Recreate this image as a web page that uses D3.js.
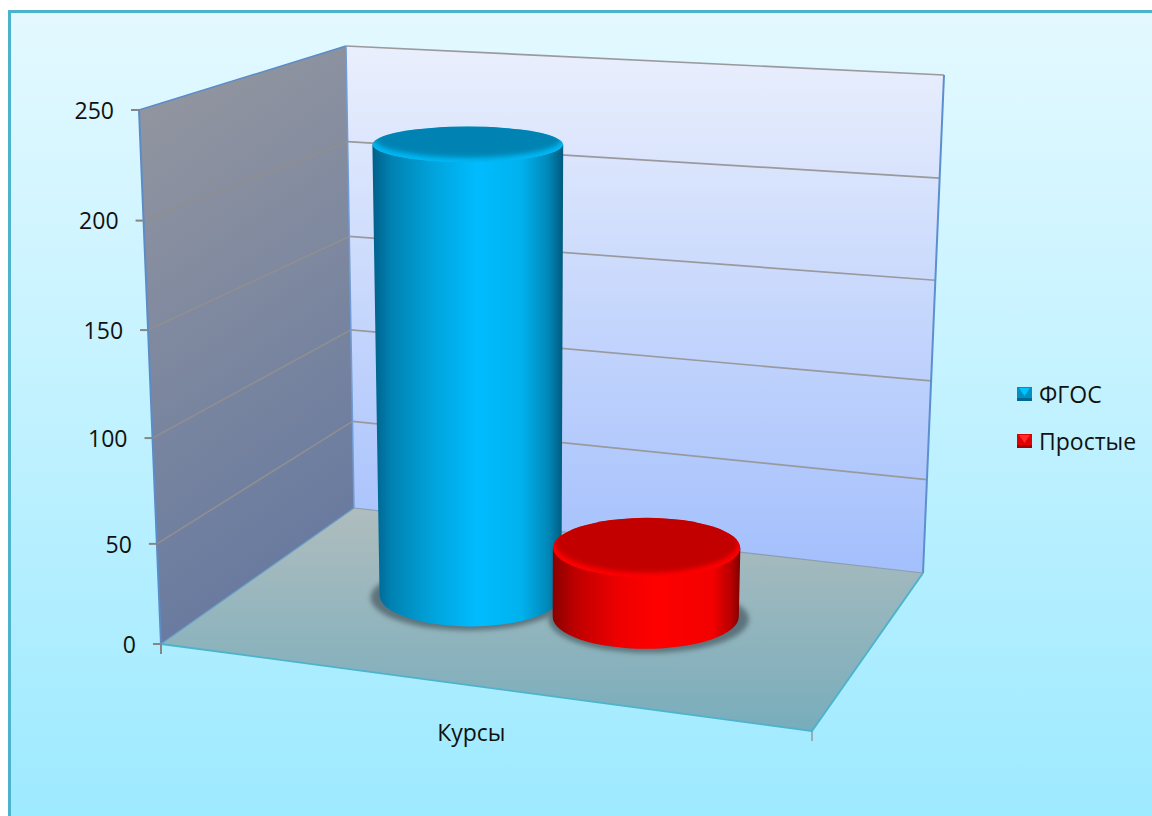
<!DOCTYPE html>
<html>
<head>
<meta charset="utf-8">
<script src="https://cdn.jsdelivr.net/npm/d3@7/dist/d3.min.js"></script>
<style>
html,body{margin:0;padding:0;background:#fff;overflow:hidden}
svg{display:block}
text{font-family:"Open Sans","Noto Sans",sans-serif;fill:#111}
</style>
</head>
<body>
<svg id="c" width="1152" height="816"></svg>
<script>
const categories = ["Курсы"];
const seriesNames = ["ФГОС", "Простые"];
const seriesValues = [223, 36];
const yTickValues = [0, 50, 100, 150, 200, 250];

// Perspective box layout: corners named by x (l/r), value (b/t), depth (f/k)
const box = {
  lbf:[161,644], rbf:[812,731], lbk:[354,508], rbk:[923,573],
  ltf:[139,110], rtf:[829,157], ltk:[346,46],  rtk:[944,75]
};
const yFrac = d3.scalePow().exponent(1.04).domain([0,250]).range([0,1]);
const xFrac = d3.scaleBand().domain(seriesNames).range([0.1925,0.7705]);
const barDepth = 0.545, barWidths = [0.3,0.307];
const lerp = (a,b,t)=>[a[0]+(b[0]-a[0])*t, a[1]+(b[1]-a[1])*t];
function project(xf,v,df){
  const t = yFrac(v);
  const bf = lerp(box.lbf,box.rbf,xf), bk = lerp(box.lbk,box.rbk,xf);
  const tf = lerp(box.ltf,box.rtf,xf), tk = lerp(box.ltk,box.rtk,xf);
  return lerp(lerp(bf,bk,df), lerp(tf,tk,df), t);
}
const ryAt = y => 18 + (y-144)*0.0295;

const svg = d3.select("#c");
const defs = svg.append("defs");
function vGrad(id,stops,x2=0,y2=1){
  const g = defs.append("linearGradient").attr("id",id).attr("x1",0).attr("y1",0).attr("x2",x2).attr("y2",y2);
  stops.forEach(s=>g.append("stop").attr("offset",s[0]).attr("stop-color",s[1]));
}
vGrad("bg",[[0,"#E4F9FF"],[1,"#9EEAFF"]]);
vGrad("backWall",[[0,"#EAEFFC"],[1,"#A3BFFC"]]);
vGrad("sideWall",[[0,"#96989F"],[1,"#687A9F"]],0.25,1);
vGrad("floor",[[0,"#AFBDBE"],[1,"#78ADBC"]]);
const sideStops = [
  [[0,"#00608A"],[.1,"#0082B2"],[.32,"#00A4DC"],[.55,"#00BCFF"],[.78,"#00B2EE"],[.92,"#0088B8"],[1,"#005A7C"]],
  [[0,"#8A0000"],[.12,"#BE0000"],[.35,"#EE0000"],[.55,"#FF0000"],[.85,"#F40000"],[.95,"#B80000"],[1,"#800000"]]
];
const rimColor = ["#00B8F4","#FF0000"], capColor = ["#0083B2","#C20000"];
sideStops.forEach((s,i)=>vGrad("side"+i,s,1,0));
defs.append("filter").attr("id","blur3").attr("x","-20%").attr("y","-40%").attr("width","140%").attr("height","180%")
  .append("feGaussianBlur").attr("stdDeviation",2.8);
defs.append("filter").attr("id","blur1").attr("x","-20%").attr("y","-40%").attr("width","140%").attr("height","180%")
  .append("feGaussianBlur").attr("stdDeviation",2.4);

// Frame
svg.append("rect").attr("x",8).attr("y",10).attr("width",1144).attr("height",806).attr("fill","url(#bg)");
svg.append("path").attr("d","M9.5,816V11.5H1152").attr("fill","none").attr("stroke","#4DB3CC").attr("stroke-width",3);

const poly = pts => "M"+pts.map(p=>p.join(",")).join("L")+"Z";
// Walls and floor
svg.append("path").attr("d",poly([box.lbk,box.rbk,box.rtk,box.ltk])).attr("fill","url(#backWall)");
svg.append("path").attr("d",poly([box.lbf,box.lbk,box.ltk,box.ltf])).attr("fill","url(#sideWall)");
svg.append("path").attr("d",poly([box.lbf,box.rbf,box.rbk,box.lbk])).attr("fill","url(#floor)");

// Gridlines
const line = (a,b,col,w)=>svg.append("line").attr("x1",a[0]).attr("y1",a[1]).attr("x2",b[0]).attr("y2",b[1]).attr("stroke",col).attr("stroke-width",w);
yTickValues.filter(v=>v>0).forEach(v=>{
  line(project(0,v,1),project(1,v,1),"#9A9A9E",1.7);
  if(v<250) line(project(0,v,0),project(0,v,1),"#8F8F90",1.6);
});

// Wall edges
line(box.ltf,box.ltk,"#5B8CC8",1.5);
line(box.ltf,box.lbf,"#5B8CC8",2);
line(box.ltk,box.lbk,"#6F9CD6",1.5);
line(box.rtk,box.rbk,"#5B8FD0",2);
line(box.lbk,box.lbf,"#6A9CC8",1.2);
line(box.lbf,box.rbf,"#4DB3CC",1.8);
line(box.rbf,box.rbk,"#4DB3CC",2);
line(box.lbk,box.rbk,"#8B9DB0",1.2);

// Y axis ticks and labels
yTickValues.forEach(v=>{
  const p = project(0,v,0);
  line([p[0]-8,p[1]],[p[0],p[1]],"#868686",2);
  svg.append("text").attr("x",p[0]-25).attr("y",p[1]+0.5).attr("dy","0.36em")
    .attr("text-anchor","end").attr("font-size",23).text(v);
});
// Category axis ticks and label
[0,1].forEach(x=>{
  const p = project(x,0,0);
  line(p,[p[0],p[1]+10],"#868686",x?1.2:2);
});
const catPos = project(0.492,0,0);
svg.append("text").attr("x",catPos[0]-10).attr("y",733).attr("dy","0.36em")
  .attr("text-anchor","middle").attr("font-size",23).text(categories[0]);

// Cylinders
const bars = seriesNames.map((name,i)=>{
  const c = xFrac(name)+xFrac.bandwidth()/2;
  const v = seriesValues[i], w = barWidths[i];
  const bL = project(c-w/2,0,barDepth), bR = project(c+w/2,0,barDepth);
  const tL = project(c-w/2,v,barDepth), tR = project(c+w/2,v,barDepth);
  const bC = project(c,0,barDepth), tC = project(c,v,barDepth);
  return {name,i,bL,bR,tL,tR,bY:bC[1],tY:tC[1],bX:(bL[0]+bR[0])/2,tX:(tL[0]+tR[0])/2,
          bRx:(bR[0]-bL[0])/2,tRx:(tR[0]-tL[0])/2};
});
bars.forEach(b=>{
  svg.append("ellipse").attr("cx",b.bX+(b.i?3:-2)).attr("cy",b.bY+2.5)
    .attr("rx",b.bRx+7).attr("ry",ryAt(b.bY)+1.5)
    .attr("fill","#4F636C").attr("opacity",.8).attr("filter","url(#blur3)");
});
bars.forEach(b=>{
  const g = svg.append("g");
  const bRy = ryAt(b.bY), tRy = ryAt(b.tY);
  g.append("path").attr("fill",`url(#side${b.i})`).attr("d",
    `M${b.tX-b.tRx},${b.tY}L${b.bX-b.bRx},${b.bY}`+
    `A${b.bRx},${bRy} 0 0 0 ${b.bX+b.bRx},${b.bY}`+
    `L${b.tX+b.tRx},${b.tY}Z`);
  const clipId = "cap"+b.i;
  defs.append("clipPath").attr("id",clipId).append("ellipse")
    .attr("cx",b.tX).attr("cy",b.tY).attr("rx",b.tRx).attr("ry",tRy);
  const cap = g.append("g").attr("clip-path",`url(#${clipId})`);
  cap.append("ellipse").attr("cx",b.tX).attr("cy",b.tY).attr("rx",b.tRx).attr("ry",tRy).attr("fill",rimColor[b.i]);
  cap.append("ellipse").attr("cx",b.tX).attr("cy",b.tY-5).attr("rx",b.tRx-2).attr("ry",tRy)
    .attr("fill",capColor[b.i]).attr("filter","url(#blur1)");
});

// Legend
const legendY = d3.scalePoint().domain(seriesNames).range([395,442]);
const keyBase = ["#0090C4","#E00000"], keyTop = ["#00C4FF","#FF2A2A"], keyDark = ["#006A94","#A80000"];
seriesNames.forEach((name,i)=>{
  const y = legendY(name), x0=1017, s=15;
  svg.append("rect").attr("x",x0).attr("y",y-8).attr("width",s).attr("height",s-1).attr("fill",keyBase[i]);
  svg.append("path").attr("d",`M${x0+2},${y-7}H${x0+s-2}L${x0+s/2},${y+1}Z`).attr("fill",keyTop[i]);
  svg.append("rect").attr("x",x0).attr("y",y+3).attr("width",s).attr("height",3).attr("fill",keyDark[i]);
  svg.append("text").attr("x",1039).attr("y",y).attr("dy","0.36em").attr("font-size",23).text(name);
});
</script>
</body>
</html>
